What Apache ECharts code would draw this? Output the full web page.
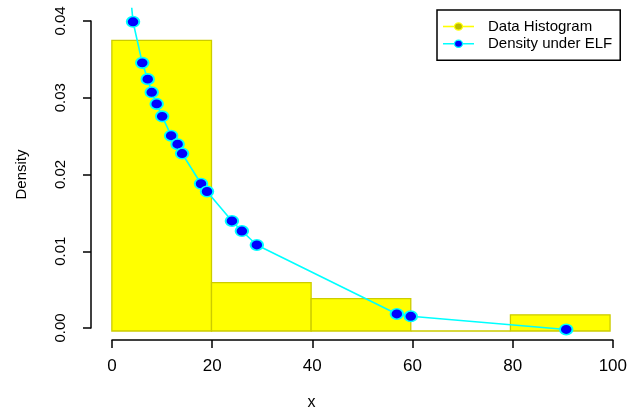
<!DOCTYPE html>
<html>
<head>
<meta charset="utf-8">
<script src="https://cdn.jsdelivr.net/npm/echarts@6/dist/echarts.min.js"></script>
<style>
html,body{margin:0;padding:0;background:#fff;}
#chart{width:630px;height:416px;}
</style>
</head>
<body>
<div id="chart"></div>
<script>
// Histogram bins (density scale)
var binStart = [0, 20, 40, 60, 80];
var binEnd = [20, 40, 60, 80, 100];
var binDensity = [0.0375, 0.00625, 0.004167, 0, 0.002083];

// Density under ELF evaluated at data points
var pointX = [3.3, 4.25, 6.1, 7.2, 8.0, 9.0, 10.1, 11.9, 13.2, 14.1, 17.9, 19.1, 24.1, 26.1, 29.1, 57.2, 60.0, 91.2];
var pointY = [0.0465, 0.0399, 0.0346, 0.0325, 0.0308, 0.0293, 0.0277, 0.0252, 0.0241, 0.0229, 0.0190, 0.0180, 0.0142, 0.0129, 0.0111, 0.0022, 0.0019, 0.0002];

// Axis ticks
var xTicks = [0, 20, 40, 60, 80, 100];
var yTicks = [0, 0.01, 0.02, 0.03, 0.04];
var yTickLabels = ['0.00', '0.01', '0.02', '0.03', '0.04'];

var seriesNames = ['Data Histogram', 'Density under ELF'];

var histData = binStart.map(function (s, i) { return [s, binEnd[i], binDensity[i]]; });
var lineData = pointX.map(function (x, i) { return [x, pointY[i]]; });

function svgIcon(lineColor, dotFill, dotStroke) {
  var svg = '<svg xmlns="http://www.w3.org/2000/svg" width="31" height="15">' +
    '<line x1="0" y1="7.5" x2="31" y2="7.5" stroke="' + lineColor + '" stroke-width="1.6"/>' +
    '<ellipse cx="15.5" cy="7.5" rx="4" ry="3.6" fill="' + dotFill + '" stroke="' + dotStroke + '" stroke-width="1.2"/>' +
    '</svg>';
  return 'image://data:image/svg+xml;charset=utf-8,' + encodeURIComponent(svg);
}

var FONT = 'Liberation Sans, Arial, sans-serif';
var chart = echarts.init(document.getElementById('chart'), null, {renderer: 'canvas'});

chart.setOption({
  backgroundColor: '#ffffff',
  animation: false,
  grid: [
    {left: 112, right: 16, top: 21, bottom: 85},
    {left: 91.92, right: -4.08, top: 8.6, bottom: 72.6}
  ],
  xAxis: [
    {
      gridIndex: 0, type: 'value', min: xTicks[0], max: xTicks[xTicks.length - 1], interval: 20,
      offset: 12,
      axisLine: {show: true, onZero: false, lineStyle: {color: '#000', width: 1.5}},
      axisTick: {show: true, length: 8, lineStyle: {color: '#000', width: 1.5}},
      axisLabel: {margin: 18, color: '#000', fontSize: 17, fontFamily: FONT, showMinLabel: true, showMaxLabel: true},
      splitLine: {show: false},
      name: 'x', nameLocation: 'middle', nameGap: 55,
      nameTextStyle: {color: '#000', fontSize: 16, fontFamily: FONT, padding: [0, 102, 0, 0]}
    },
    {gridIndex: 1, type: 'value', min: -4, max: 104, show: false}
  ],
  yAxis: [
    {
      gridIndex: 0, type: 'value', min: yTicks[0], max: yTicks[yTicks.length - 1], interval: 0.01,
      offset: 21,
      axisLine: {show: true, onZero: false, lineStyle: {color: '#000', width: 1.5}},
      axisTick: {show: true, length: 8, lineStyle: {color: '#000', width: 1.5}},
      axisLabel: {
        margin: 23, rotate: 90, color: '#000', fontSize: 15, fontFamily: FONT,
        formatter: function (v) {
          for (var i = 0; i < yTicks.length; i++) { if (Math.abs(yTicks[i] - v) < 1e-9) return yTickLabels[i]; }
          return '';
        }
      },
      splitLine: {show: false},
      name: 'Density', nameLocation: 'middle', nameGap: 62,
      nameTextStyle: {color: '#000', fontSize: 15, fontFamily: FONT}
    },
    {gridIndex: 1, type: 'value', min: -0.0016, max: 0.0416, show: false}
  ],
  legend: {
    orient: 'vertical', left: 437, top: 10,
    padding: [9, 8, 9, 6],
    itemWidth: 31, itemHeight: 15, itemGap: 2.3,
    borderColor: '#000', borderWidth: 1.5,
    selectedMode: false,
    textStyle: {color: '#000', fontSize: 15, fontFamily: FONT, lineHeight: 15, padding: [0, 0, 0, 9]},
    data: [
      {name: seriesNames[0], icon: svgIcon('#ffff00', '#bcbc00', '#ffff00')},
      {name: seriesNames[1], icon: svgIcon('#00ffff', '#0000ff', '#00ffff')}
    ]
  },
  series: [
    {
      name: seriesNames[0], type: 'custom', xAxisIndex: 1, yAxisIndex: 1,
      clip: true, z: 2,
      encode: {x: [0, 1], y: 2},
      data: histData,
      renderItem: function (params, api) {
        var p0 = api.coord([api.value(0), api.value(2)]);
        var p1 = api.coord([api.value(1), 0]);
        return {
          type: 'rect',
          shape: {x: p0[0], y: p0[1], width: p1[0] - p0[0], height: p1[1] - p0[1]},
          style: {fill: '#ffff00', stroke: '#cccc00', lineWidth: 1.3}
        };
      }
    },
    {
      name: seriesNames[1], type: 'line', xAxisIndex: 1, yAxisIndex: 1,
      clip: true, z: 3,
      data: lineData,
      showAllSymbol: true,
      symbol: 'circle', symbolSize: [12.5, 10.5],
      lineStyle: {color: '#00ffff', width: 1.6},
      itemStyle: {color: '#0000ff', borderColor: '#00ffff', borderWidth: 1.8}
    }
  ]
});
</script>
</body>
</html>
